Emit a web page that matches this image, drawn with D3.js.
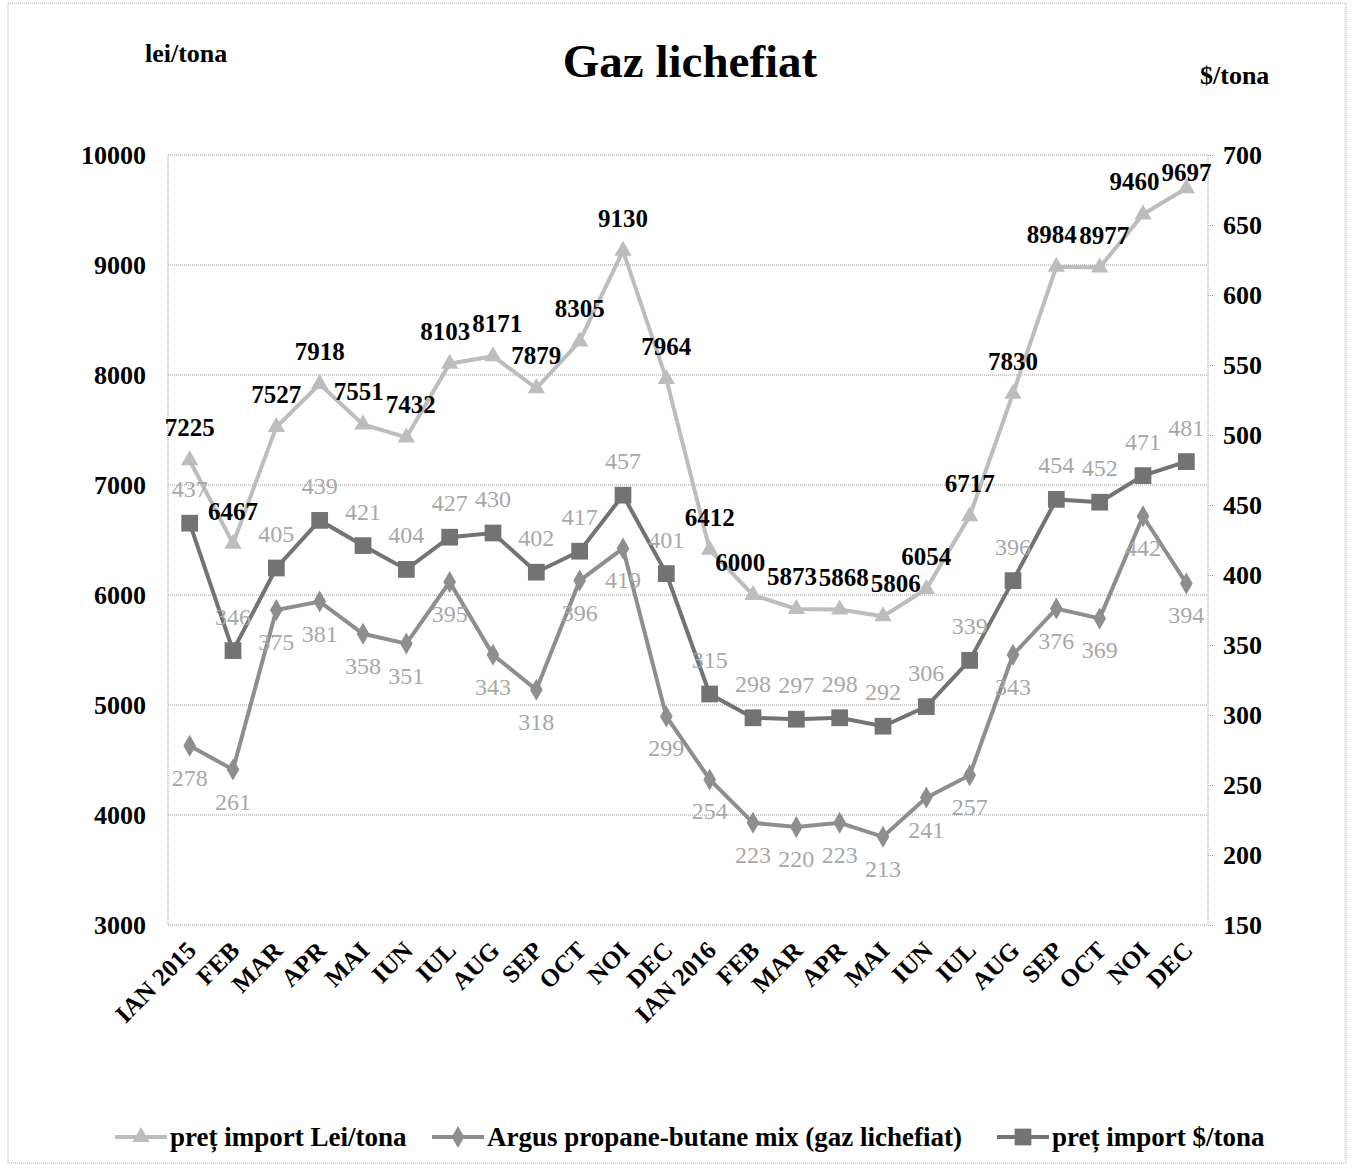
<!DOCTYPE html>
<html>
<head>
<meta charset="utf-8">
<script src="https://cdn.jsdelivr.net/npm/d3@7"></script>
<style>
  body { margin: 0; background: #fff; }
  svg text { font-family: "Liberation Serif", "Times New Roman", serif; }
</style>
</head>
<body>
<div class="container"></div>
<script>
const w = 1356;
const h = 1169;

// data
const months = ["IAN 2015","FEB","MAR","APR","MAI","IUN","IUL","AUG","SEP","OCT","NOI","DEC",
                "IAN 2016","FEB","MAR","APR","MAI","IUN","IUL","AUG","SEP","OCT","NOI","DEC"];
const leiImport = [7225,6467,7527,7918,7551,7432,8103,8171,7879,8305,9130,7964,
                   6412,6000,5873,5868,5806,6054,6717,7830,8984,8977,9460,9697];
const argus = [278,261,375,381,358,351,395,343,318,396,419,299,
               254,223,220,223,213,241,257,343,376,369,442,394];
const usdImport = [437,346,405,439,421,404,427,430,402,417,457,401,
                   315,298,297,298,292,306,339,396,454,452,471,481];
const leftTicks = [3000,4000,5000,6000,7000,8000,9000,10000];
const rightTicks = [150,200,250,300,350,400,450,500,550,600,650,700];

const plot = {left: 168, right: 1208, top: 155, bottom: 925};

const svg = d3.select(".container")
          .append("svg")
          .attr("width", w)
          .attr("height", h);

// outer dotted frame
svg.append("rect")
   .attr("x", 8).attr("y", 3)
   .attr("width", 1338).attr("height", 1160)
   .attr("fill", "none")
   .attr("stroke", "#aaa")
   .attr("stroke-dasharray", "1,1");

const xScale = d3.scaleBand()
                 .domain(d3.range(months.length))
                 .range([plot.left, plot.right]);
const cx = i => xScale(i) + xScale.bandwidth() / 2;

const yLeft = d3.scaleLinear()
                .domain([3000, 10000])
                .range([plot.bottom, plot.top]);
const yRight = d3.scaleLinear()
                 .domain([150, 700])
                 .range([plot.bottom, plot.top]);

// gridlines
svg.append("g")
   .selectAll("line")
   .data(leftTicks)
   .enter()
   .append("line")
   .attr("x1", plot.left).attr("x2", plot.right)
   .attr("y1", d => yLeft(d)).attr("y2", d => yLeft(d))
   .attr("stroke", "#999")
   .attr("stroke-dasharray", "1,1");

// plot frame sides
[plot.left, plot.right].forEach(x => {
  svg.append("line")
     .attr("x1", x).attr("x2", x)
     .attr("y1", plot.top).attr("y2", plot.bottom)
     .attr("stroke", "#999")
     .attr("stroke-dasharray", "1,1");
});

// left axis
const yAxisL = d3.axisLeft(yLeft).tickValues(leftTicks).tickFormat(d3.format("d"))
                 .tickSize(0).tickPadding(22);
const gL = svg.append("g")
   .attr("transform", "translate(" + plot.left + ",0)")
   .call(yAxisL);
gL.select(".domain").remove();
gL.selectAll("text")
  .attr("font-size", 26).attr("font-weight", "bold").attr("fill", "#000")
  .attr("font-family", "Liberation Serif");

// right axis
const yAxisR = d3.axisRight(yRight).tickValues(rightTicks).tickSize(5).tickPadding(10);
const gR = svg.append("g")
   .attr("transform", "translate(" + plot.right + ",0)")
   .call(yAxisR);
gR.select(".domain").remove();
gR.selectAll("line").attr("stroke", "#999").attr("stroke-dasharray", "1,1");
gR.selectAll("text")
  .attr("font-size", 26).attr("font-weight", "bold").attr("fill", "#000")
  .attr("font-family", "Liberation Serif");

// x labels
svg.append("g")
   .selectAll("text")
   .data(months)
   .enter()
   .append("text")
   .attr("transform", (d, i) => "translate(" + (cx(i) + 8) + ",952) rotate(-45)")
   .attr("text-anchor", "end")
   .attr("font-size", 25)
   .attr("font-weight", "bold")
   .text(d => d);

// series
const series = [
  {name: "preț import Lei/tona", values: leiImport, y: yLeft, color: "#bdbdbd", shape: d3.symbolTriangle, size: 130},
  {name: "Argus propane-butane mix (gaz lichefiat)", values: argus, y: yRight, color: "#8e8e8e", shape: d3.symbolDiamond, size: 140},
  {name: "preț import $/tona", values: usdImport, y: yRight, color: "#737373", shape: d3.symbolSquare, size: 280}
];

series.forEach(s => {
  const line = d3.line()
                 .x((d, i) => cx(i))
                 .y(d => s.y(d));
  svg.append("path")
     .datum(s.values)
     .attr("d", line)
     .attr("fill", "none")
     .attr("stroke", s.color)
     .attr("stroke-width", 4);
  svg.append("g")
     .selectAll("path")
     .data(s.values)
     .enter()
     .append("path")
     .attr("transform", (d, i) => "translate(" + cx(i) + "," + s.y(d) + ")")
     .attr("d", d3.symbol().type(s.shape).size(s.size))
     .attr("fill", s.color);
});

// data labels (kept inside the plot frame)
const leiLabels = svg.append("g")
   .selectAll("text")
   .data(leiImport)
   .enter()
   .append("text")
   .attr("x", (d, i) => Math.min(cx(i), plot.right - 30))
   .attr("y", d => Math.max(yLeft(d) - 24, plot.top + 26))
   .attr("text-anchor", "middle")
   .attr("font-size", 25)
   .attr("font-weight", "bold")
   .attr("fill", "#000")
   .text(d => d);

// push neighbouring labels apart sideways when they collide
function spread(sel) {
  const nodes = sel.nodes();
  for (let pass = 0; pass < 6; pass++) {
    for (let i = 1; i < nodes.length; i++) {
      const a = nodes[i - 1].getBBox(), b = nodes[i].getBBox();
      const ox = a.x + a.width + 2 - b.x;
      const oy = Math.min(a.y + a.height, b.y + b.height) - Math.max(a.y, b.y);
      if (ox > 0 && oy > 4) {
        nodes[i - 1].setAttribute("x", +nodes[i - 1].getAttribute("x") - ox / 2);
        nodes[i].setAttribute("x", +nodes[i].getAttribute("x") + ox / 2);
      }
    }
  }
}
spread(leiLabels);

svg.append("g")
   .selectAll("text")
   .data(usdImport)
   .enter()
   .append("text")
   .attr("x", (d, i) => cx(i))
   .attr("y", d => yRight(d) - 26)
   .attr("text-anchor", "middle")
   .attr("font-size", 24)
   .attr("fill", "#a8a8a8")
   .text(d => d);

svg.append("g")
   .selectAll("text")
   .data(argus)
   .enter()
   .append("text")
   .attr("x", (d, i) => cx(i))
   .attr("y", d => yRight(d) + 40)
   .attr("text-anchor", "middle")
   .attr("font-size", 24)
   .attr("fill", "#a8a8a8")
   .text(d => d);

// titles
svg.append("text")
   .attr("x", 690).attr("y", 77)
   .attr("text-anchor", "middle")
   .attr("font-size", 47)
   .attr("font-weight", "bold")
   .text("Gaz lichefiat");
svg.append("text")
   .attr("x", 145).attr("y", 62)
   .attr("font-size", 26)
   .attr("font-weight", "bold")
   .text("lei/tona");
svg.append("text")
   .attr("x", 1200).attr("y", 84)
   .attr("font-size", 26)
   .attr("font-weight", "bold")
   .text("$/tona");

// legend
const legendX = [115, 432, 997];
series.forEach((s, k) => {
  const g = svg.append("g").attr("transform", "translate(" + legendX[k] + ",1137)");
  g.append("line")
   .attr("x1", 0).attr("x2", 52)
   .attr("stroke", s.color).attr("stroke-width", 4);
  g.append("path")
   .attr("transform", "translate(26,0)")
   .attr("d", d3.symbol().type(s.shape).size(s.size))
   .attr("fill", s.color);
  g.append("text")
   .attr("x", 55).attr("y", 9)
   .attr("font-size", 27)
   .attr("font-weight", "bold")
   .text(s.name);
});
</script>
</body>
</html>
